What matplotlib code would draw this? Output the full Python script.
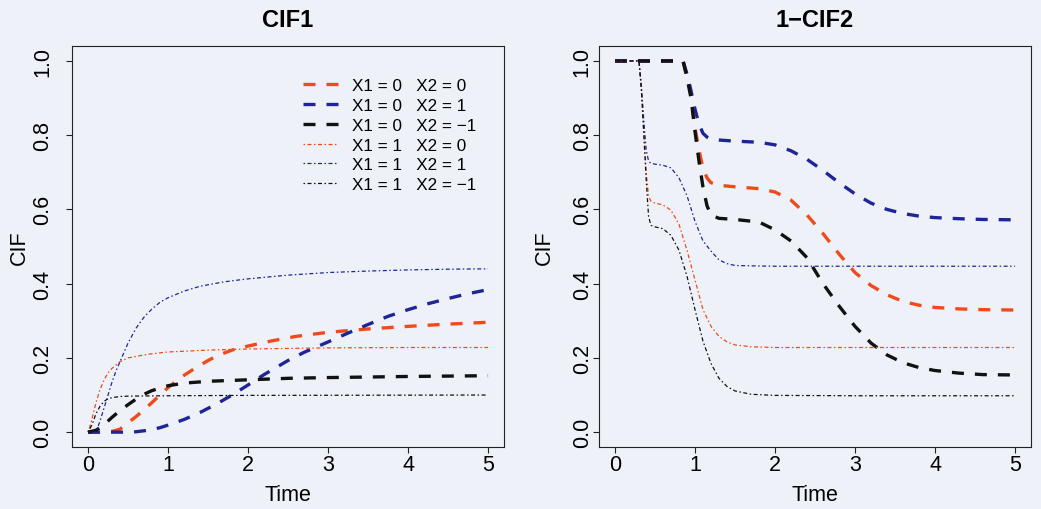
import matplotlib
matplotlib.use("Agg")
from matplotlib import pyplot as plt

plt.rcParams['font.family'] = ['Liberation Sans', 'DejaVu Sans']

BG = '#eef2f8'

labels = ['X1 = 0   X2 = 0', 'X1 = 0   X2 = 1', 'X1 = 0   X2 = \u22121',
          'X1 = 1   X2 = 0', 'X1 = 1   X2 = 1', 'X1 = 1   X2 = \u22121']
colors = ['#f04a1c', '#1f2596', '#111111', '#f04a1c', '#1f2596', '#111111']

# ---- CIF1 ----
cif1_t_00 = [0, 0.2, 0.3, 0.4, 0.5, 0.6, 0.7, 0.8, 0.9, 1.0, 1.1, 1.2, 1.3, 1.4,
             1.5, 1.6, 1.7, 1.8, 2.0, 2.3, 2.6, 3.0, 3.5, 4.0, 4.5, 5.0]
cif1_00 = [0, 0, 0.002, 0.008, 0.025, 0.042, 0.06, 0.08, 0.1, 0.12, 0.137, 0.153,
           0.167, 0.18, 0.193, 0.204, 0.213, 0.221, 0.232, 0.246, 0.258, 0.269,
           0.278, 0.285, 0.291, 0.296]

cif1_t_01 = [0, 0.3, 0.5, 0.6, 0.75, 0.9, 1.0, 1.2, 1.4, 1.6, 1.8, 2.0, 2.2, 2.5,
             2.7, 3.0, 3.25, 3.5, 3.75, 4.0, 4.25, 4.5, 4.75, 5.0]
cif1_01 = [0, 0, 0, 0.001, 0.005, 0.012, 0.019, 0.034, 0.053, 0.075, 0.1, 0.127,
           0.155, 0.193, 0.215, 0.243, 0.267, 0.29, 0.312, 0.33, 0.346, 0.36,
           0.373, 0.384]

cif1_t_0m = [0, 0.1, 0.2, 0.3, 0.4, 0.5, 0.6, 0.7, 0.8, 1.0, 1.2, 1.5, 2.0, 2.5,
             3.0, 4.0, 5.0]
cif1_0m = [0, 0.005, 0.02, 0.04, 0.058, 0.074, 0.089, 0.102, 0.112, 0.125, 0.132,
           0.137, 0.141, 0.145, 0.147, 0.15, 0.152]

cif1_t_10 = [0, 0.03, 0.06, 0.1, 0.15, 0.2, 0.25, 0.3, 0.4, 0.5, 0.75, 1.0, 1.5,
             2.0, 3.0, 4.0, 5.0]
cif1_10 = [0, 0.02, 0.045, 0.08, 0.115, 0.14, 0.16, 0.172, 0.19, 0.2, 0.21, 0.216,
           0.221, 0.224, 0.227, 0.228, 0.228]

cif1_t_11 = [0, 0.1, 0.15, 0.2, 0.25, 0.3, 0.35, 0.4, 0.5, 0.6, 0.7, 0.8, 0.9, 1.0,
             1.2, 1.4, 1.7, 2.0, 2.5, 3.0, 3.5, 4.0, 4.5, 5.0]
cif1_11 = [0, 0, 0.03, 0.065, 0.1, 0.135, 0.165, 0.19, 0.24, 0.28, 0.31, 0.332,
           0.35, 0.362, 0.38, 0.393, 0.405, 0.413, 0.423, 0.43, 0.434, 0.437,
           0.439, 0.44]

cif1_t_1m = [0, 0.05, 0.1, 0.15, 0.2, 0.25, 0.3, 0.4, 0.5, 1.0, 2.0, 5.0]
cif1_1m = [0, 0.02, 0.05, 0.07, 0.083, 0.09, 0.093, 0.096, 0.097, 0.098, 0.099, 0.1]

# ---- 1-CIF2 ----
cif2_t_0x = [0, 0.85, 0.9, 0.95, 1.0, 1.05, 1.1, 1.15, 1.2, 1.3, 1.5, 1.8, 2.0,
             2.2, 2.4, 2.6, 2.8, 3.0, 3.2, 3.4, 3.6, 3.8, 4.0, 4.3, 4.6, 5.0]
cif2_00 = [1, 1, 0.96, 0.91, 0.82, 0.76, 0.71, 0.685, 0.672, 0.665, 0.661, 0.656,
           0.647, 0.625, 0.585, 0.535, 0.48, 0.43, 0.395, 0.37, 0.352, 0.342,
           0.336, 0.332, 0.33, 0.329]
cif2_01 = [1, 1, 0.965, 0.92, 0.87, 0.83, 0.805, 0.795, 0.79, 0.787, 0.784, 0.781,
           0.774, 0.758, 0.735, 0.705, 0.672, 0.642, 0.617, 0.6, 0.589, 0.582,
           0.578, 0.575, 0.573, 0.572]
cif2_0m = [1, 1, 0.955, 0.9, 0.81, 0.73, 0.66, 0.61, 0.585, 0.576, 0.573, 0.566,
           0.545, 0.515, 0.47, 0.4, 0.34, 0.285, 0.24, 0.208, 0.187, 0.174, 0.166,
           0.159, 0.155, 0.154]

cif2_t_1x = [0, 0.3, 0.33, 0.36, 0.39, 0.42, 0.45, 0.5, 0.6, 0.7, 0.8, 0.9, 1.0,
             1.1, 1.2, 1.3, 1.4, 1.5, 1.7, 2.0, 3.0, 4.0, 5.0]
cif2_10 = [1, 1, 0.93, 0.82, 0.7, 0.635, 0.622, 0.617, 0.612, 0.598, 0.56, 0.49,
           0.41, 0.33, 0.285, 0.258, 0.243, 0.235, 0.23, 0.228, 0.228, 0.228, 0.228]
cif2_11 = [1, 1, 0.93, 0.84, 0.76, 0.73, 0.724, 0.722, 0.719, 0.712, 0.685, 0.637,
           0.568, 0.515, 0.488, 0.464, 0.454, 0.449, 0.448, 0.447, 0.447, 0.447,
           0.447]
cif2_1m = [1, 1, 0.92, 0.8, 0.68, 0.58, 0.557, 0.553, 0.548, 0.53, 0.49, 0.42, 0.33,
           0.245, 0.185, 0.145, 0.123, 0.111, 0.102, 0.099, 0.098, 0.098, 0.098]

panel1 = [(cif1_t_00, cif1_00), (cif1_t_01, cif1_01), (cif1_t_0m, cif1_0m),
          (cif1_t_10, cif1_10), (cif1_t_11, cif1_11), (cif1_t_1m, cif1_1m)]
panel2 = [(cif2_t_0x, cif2_00), (cif2_t_0x, cif2_01), (cif2_t_0x, cif2_0m),
          (cif2_t_1x, cif2_10), (cif2_t_1x, cif2_11), (cif2_t_1x, cif2_1m)]

fig = plt.figure(figsize=(10.41, 5.10), dpi=100, facecolor=BG)
ax1 = fig.add_axes([0.0692, 0.1216, 0.415, 0.786])
ax2 = fig.add_axes([0.5754, 0.1216, 0.415, 0.786])


def draw_panel(ax, curves, title, ypad, ylab_x):
    ax.set_facecolor(BG)
    lines = []
    for i, (t, y) in enumerate(curves):
        if i < 3:
            # X1 = 0: thick dashed
            ln, = ax.plot(t, y, color=colors[i], lw=2.4, dashes=(3.6, 3.3),
                          solid_joinstyle='round')
        else:
            # X1 = 1: thin dot-dash
            ln, = ax.plot(t, y, color=colors[i], lw=0.9, dashes=(1.2, 2.0, 3.2, 2.0))
        lines.append(ln)
    ax.set_xlim(-0.2, 5.2)
    ax.set_ylim(-0.04, 1.04)
    ax.set_xticks([0, 1, 2, 3, 4, 5])
    ax.set_yticks([0, 0.2, 0.4, 0.6, 0.8, 1.0])
    ax.set_yticklabels(['0.0', '0.2', '0.4', '0.6', '0.8', '1.0'])
    ax.tick_params(axis='both', direction='out', length=4.5, width=0.8,
                   labelsize=15.5, color='#222222')
    ax.tick_params(axis='x', pad=0.5)
    ax.tick_params(axis='y', pad=ypad, labelrotation=90)
    for lb in ax.get_yticklabels():
        lb.set_va('center')
    for sp in ax.spines.values():
        sp.set_linewidth(0.8)
        sp.set_color('#222222')
    ax.set_title(title, fontsize=17, fontweight='bold', pad=14.4)
    ax.set_xlabel('Time', fontsize=15.5)
    ax.xaxis.set_label_coords(0.5, -0.092)
    ax.set_ylabel('CIF', fontsize=15.5, va='center')
    ax.yaxis.set_label_coords(ylab_x, 0.5)
    return lines


lines = draw_panel(ax1, panel1, 'CIF1', 9.0, -0.123)
draw_panel(ax2, panel2, '1\u2212CIF2', 0.0, -0.127)

ax1.legend(lines, labels, loc='upper left', bbox_to_anchor=(0.535, 0.92),
           frameon=False, fontsize=12.3, handlelength=2.05, handletextpad=0.82,
           labelspacing=0.28, borderpad=0, borderaxespad=0)

fig.savefig('out.png', dpi=100, facecolor=BG)
